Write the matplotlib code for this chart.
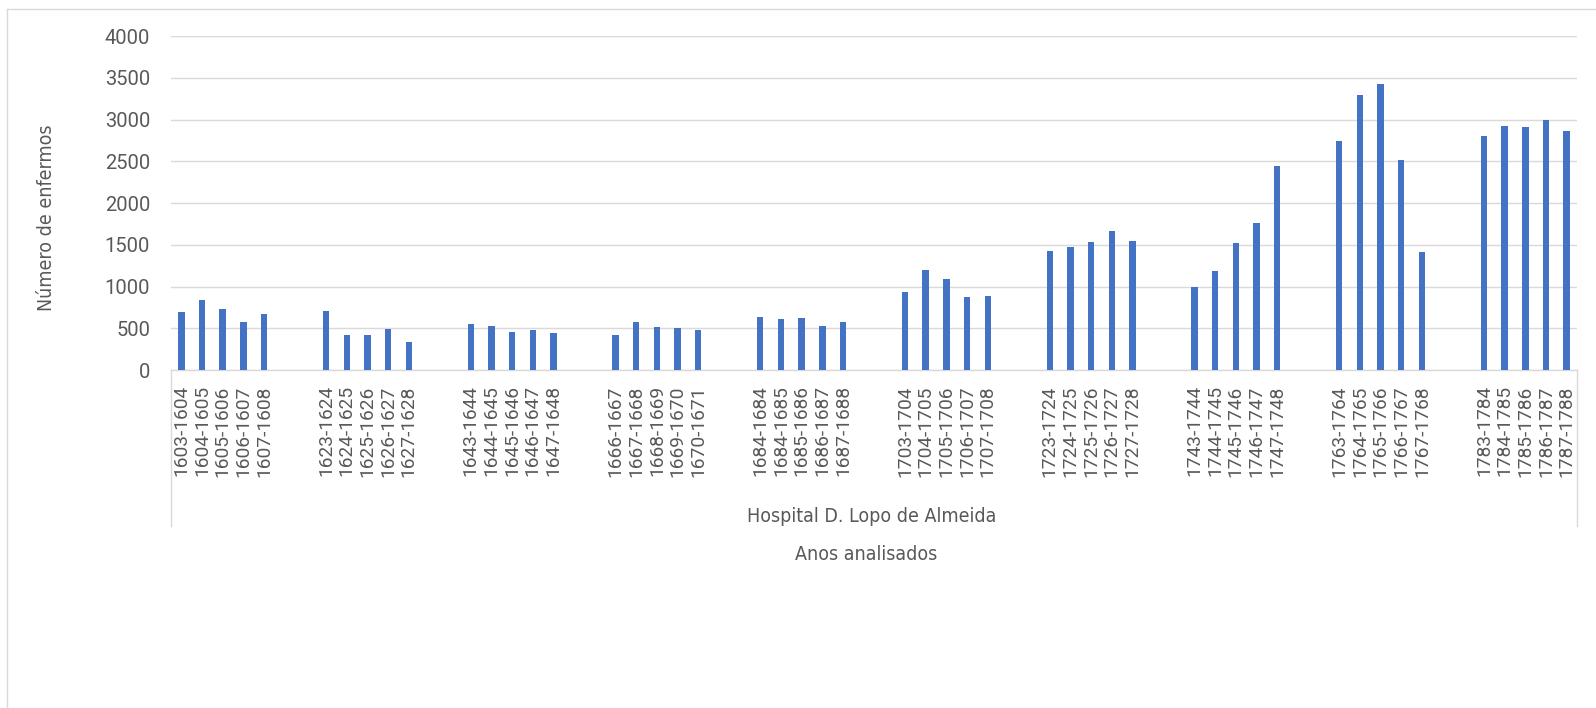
import numpy as np
import matplotlib.pyplot as plt
from matplotlib.lines import Line2D
from matplotlib import font_manager

# Períodos analisados (5 anos por bloco) e número de enfermos
periodos = [
    "1603-1604", "1604-1605", "1605-1606", "1606-1607", "1607-1608",
    "1623-1624", "1624-1625", "1625-1626", "1626-1627", "1627-1628",
    "1643-1644", "1644-1645", "1645-1646", "1646-1647", "1647-1648",
    "1666-1667", "1667-1668", "1668-1669", "1669-1670", "1670-1671",
    "1684-1684", "1684-1685", "1685-1686", "1686-1687", "1687-1688",
    "1703-1704", "1704-1705", "1705-1706", "1706-1707", "1707-1708",
    "1723-1724", "1724-1725", "1725-1726", "1726-1727", "1727-1728",
    "1743-1744", "1744-1745", "1745-1746", "1746-1747", "1747-1748",
    "1763-1764", "1764-1765", "1765-1766", "1766-1767", "1767-1768",
    "1783-1784", "1784-1785", "1785-1786", "1786-1787", "1787-1788",
]
enfermos = [
    700, 840, 730, 570, 670,
    705, 425, 420, 490, 340,
    550, 525, 455, 480, 440,
    420, 575, 515, 505, 485,
    635, 615, 625, 530, 575,
    930, 1195, 1090, 875, 885,
    1420, 1475, 1530, 1670, 1545,
    1000, 1185, 1520, 1760, 2440,
    2740, 3290, 3420, 2520, 1410,
    2800, 2920, 2905, 3000, 2860,
]
hospital = "Hospital D. Lopo de Almeida"

# cada bloco tem 5 períodos, separados por 2 linhas vazias na tabela
tam_bloco = 5
vazio = 2
idx = np.arange(len(periodos))
pos = idx + (idx // tam_bloco) * vazio
n_slots = pos[-1] + 1

cinza = "#595959"
linha = "#d9d9d9"

# fonte estreita para os títulos, se houver alguma instalada
nomes = {f.name for f in font_manager.fontManager.ttflist}
estreitas = [f.name for f in font_manager.fontManager.ttflist
             if f.stretch in ("condensed", "semi-condensed", 300)
             or "Narrow" in f.name or "Condensed" in f.name]
if "Liberation Sans Narrow" in nomes:
    fonte_txt, tam_txt, esticar = ["Liberation Sans Narrow"], 16.5, "normal"
elif estreitas:
    fonte_txt, tam_txt, esticar = [estreitas[0]], 14.0, "condensed"
else:
    fonte_txt, tam_txt, esticar = ["Roboto"], 14.0, "normal"

W, H = 1596, 708
fig = plt.figure(figsize=(W / 100, H / 100), dpi=100)
esq, dir_, topo, base = 171, 1577, 36, 370
ax = fig.add_axes([esq / W, 1 - base / H, (dir_ - esq) / W, (base - topo) / H])

ax.bar(pos, enfermos, width=0.31, color="#4472C4", zorder=3)

ax.set_xlim(-0.5, n_slots - 0.5)
ax.set_ylim(0, 4000)
ax.set_yticks(np.arange(0, 4001, 500))
ax.yaxis.grid(True, color=linha, linewidth=1.0, zorder=0)

ax.set_xticks(pos)
ax.set_xticklabels(periodos, rotation=90, va="top", ha="center",
                   fontfamily="Roboto", fontsize=13.8, color=cinza)
for t in ax.get_yticklabels():
    t.set_fontfamily("Roboto")
    t.set_fontsize(14.5)
    t.set_color(cinza)
ax.tick_params(axis="x", length=0, pad=11)
ax.tick_params(axis="y", length=0, pad=15)

for lado in ["top", "right", "left"]:
    ax.spines[lado].set_visible(False)
ax.spines["bottom"].set_color(linha)
ax.spines["bottom"].set_linewidth(1.0)

# caixa da categoria (eixo com dois níveis)
prof = (526 - base) / (base - topo)
for xa in (0, 1):
    ax.add_line(Line2D([xa, xa], [0, -prof], transform=ax.transAxes,
                       color=linha, linewidth=1.0, clip_on=False))

kw = dict(ha="center", va="center", fontfamily=fonte_txt, fontsize=tam_txt,
          fontstretch=esticar, color=cinza)
fig.text(872 / W, 1 - 516 / H, hospital, **kw)
fig.text(866 / W, 1 - 554 / H, "Anos analisados", **kw)
fig.text(47 / W, 1 - 218 / H, "Número de enfermos", rotation=90, **kw)

# moldura da área do gráfico
fig.add_artist(Line2D([7 / W, 7 / W], [0, 1 - 9 / H], transform=fig.transFigure,
                      color=linha, linewidth=1.0))
fig.add_artist(Line2D([7 / W, 1], [1 - 9 / H, 1 - 9 / H], transform=fig.transFigure,
                      color=linha, linewidth=1.0))

fig.savefig("out.png", dpi=100, facecolor="white")
